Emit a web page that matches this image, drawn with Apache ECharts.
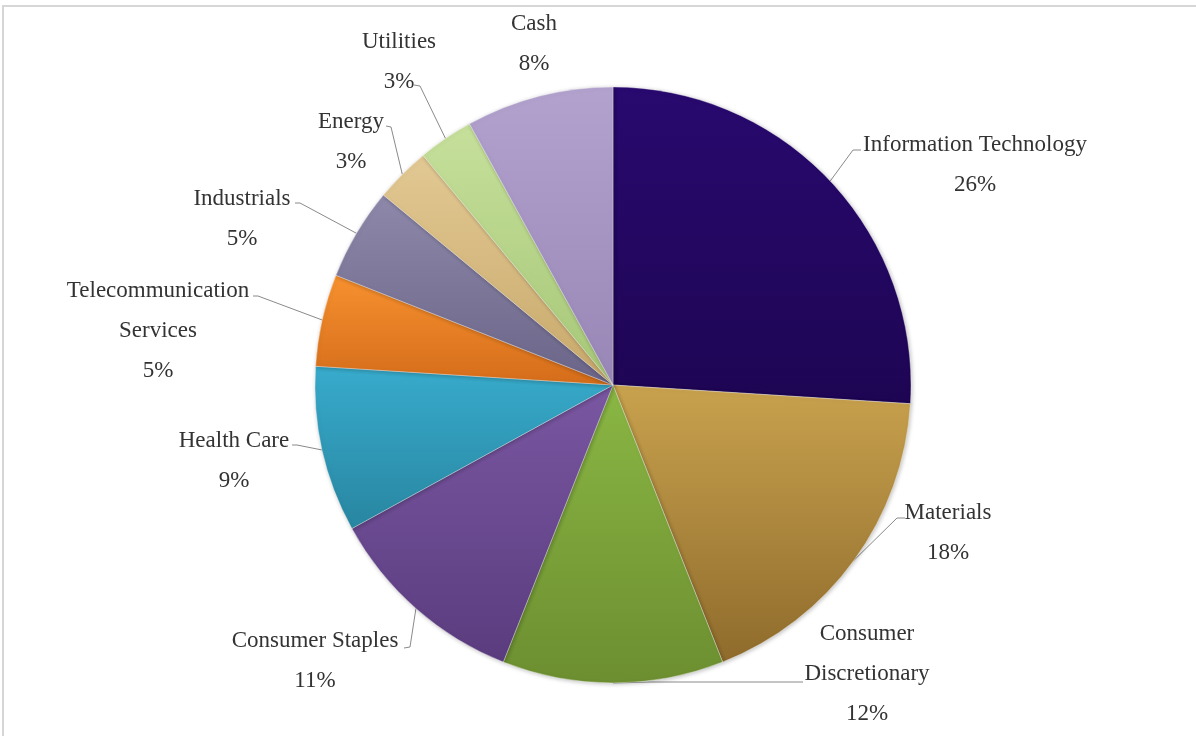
<!DOCTYPE html>
<html>
<head>
<meta charset="utf-8">
<script src="https://cdn.jsdelivr.net/npm/echarts@6/dist/echarts.min.js"></script>
<style>
  html, body { margin: 0; padding: 0; background: #ffffff; }
  #chart { width: 1196px; height: 736px; }
  #frame {
    position: absolute; left: 2px; top: 5px; right: 0; bottom: 0;
    border-top: 2px solid #d6d6d6; border-left: 2px solid #d6d6d6;
    pointer-events: none;
  }
</style>
</head>
<body>
<div id="chart"></div>
<div id="frame"></div>
<script>
// Portfolio allocation by sector, clockwise from 12 o'clock
const sectors = [
  'Information Technology', 'Materials', 'Consumer\nDiscretionary', 'Consumer Staples',
  'Health Care', 'Telecommunication\nServices', 'Industrials', 'Energy', 'Utilities', 'Cash'
];
const weights = [26, 18, 12, 11, 9, 5, 5, 3, 3, 8];

// Slice fills: lighter tone at the top, darker at the bottom
const topColors = ['#28096f', '#c9a24e', '#8ab744', '#7a57a2', '#38abcc', '#f7912f', '#8e88aa', '#e2c893', '#c6e09b', '#b3a2ce'];
const bottomColors = ['#1e0553', '#8f6b2c', '#6c8e30', '#5a3c7e', '#2886a1', '#d46c1a', '#6a6588', '#c8a96b', '#a6c777', '#9886b6'];

// Label placement: centre of the first text line, and the bend / end of each leader line
const labelAnchors = [
  [975, 145], [948, 513], [867, 634], [315, 641], [234, 441],
  [158, 291], [242, 199], [351, 122], [399, 42], [534, 24]
];
const leaderPaths = [
  [[853, 150], [861, 150]],
  [[897, 518], [905, 518]],
  [[650, 682], [803, 682]],
  [[410, 647], [404, 648]],
  [[297, 445], [292, 445]],
  [[258, 296], [253, 296]],
  [[300, 203], [295, 203]],
  [[391, 127], [386, 126]],
  [[420, 86], [414, 85]],
  null
];

const chart = echarts.init(document.getElementById('chart'), null, { renderer: 'canvas' });

const seriesData = sectors.map(function (name, i) {
  const item = {
    name: name,
    value: weights[i],
    itemStyle: {
      color: new echarts.graphic.LinearGradient(0, 0, 0, 1, [
        { offset: 0, color: topColors[i] },
        { offset: 1, color: bottomColors[i] }
      ])
    }
  };
  if (!leaderPaths[i]) item.labelLine = { show: false };
  return item;
});

chart.setOption({
  backgroundColor: '#ffffff',
  animation: false,
  series: [{
    type: 'pie',
    center: [613, 385],
    radius: 298,
    startAngle: 90,
    clockwise: true,
    avoidLabelOverlap: false,
    data: seriesData,
    itemStyle: {
      borderColor: 'rgba(255,255,255,0.35)',
      borderWidth: 1,
      shadowBlur: 4,
      shadowColor: 'rgba(0,0,0,0.25)',
      shadowOffsetX: 1,
      shadowOffsetY: 1
    },
    label: {
      show: true,
      position: 'outside',
      formatter: function (p) { return p.name + '\n' + p.value + '%'; },
      fontFamily: 'Liberation Serif',
      fontSize: 23,
      lineHeight: 40,
      color: '#333333',
      align: 'center'
    },
    labelLine: {
      show: true,
      lineStyle: { color: '#8a8a8a', width: 1 }
    },
    labelLayout: function (params) {
      const i = params.dataIndex;
      const a = labelAnchors[i];
      const out = { x: a[0], y: a[1] - 20, align: 'center', verticalAlign: 'top' };
      const path = leaderPaths[i];
      if (path && params.labelLinePoints) {
        out.labelLinePoints = [params.labelLinePoints[0], path[0], path[1]];
      }
      return out;
    }
  }]
});
</script>
</body>
</html>
